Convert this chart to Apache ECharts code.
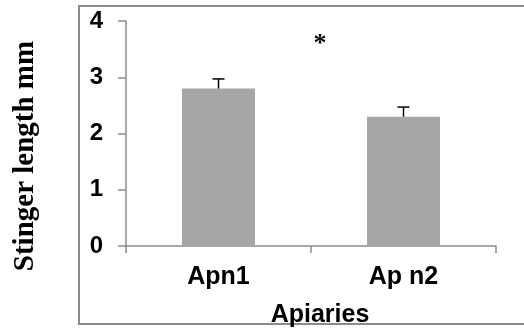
<!DOCTYPE html>
<html>
<head>
<meta charset="utf-8">
<script src="https://cdn.jsdelivr.net/npm/echarts@6/dist/echarts.min.js"></script>
<style>
  html, body { margin: 0; padding: 0; background: #fff; }
  #chart { width: 524px; height: 329px; }
</style>
</head>
<body>
<div id="chart"></div>
<script>
const categories = ['Apn1', 'Ap n2']
const means = [2.8, 2.3]
const errors = [0.17, 0.17]
const yTicks = [0, 1, 2, 3, 4]

const sans = '"Liberation Sans", Arial, sans-serif'
const serif = '"Liberation Serif", "Times New Roman", serif'
const axisGray = '#8c8c8c'

const chart = echarts.init(document.getElementById('chart'))

const option = {
  animation: false,
  backgroundColor: '#fff',
  grid: {
    left: 126,
    right: 28,
    top: 21,
    bottom: 83,
    outerBoundsMode: 'none',
    containLabel: false,
  },
  graphic: [
    {
      type: 'rect',
      shape: { x: 79, y: 6, width: 460, height: 318 },
      style: { fill: 'none', stroke: axisGray, lineWidth: 2 },
      silent: true,
    },
    {
      type: 'text',
      x: 26,
      y: 156,
      rotation: Math.PI / 2,
      style: {
        text: 'Stinger length mm',
        font: 'bold 29px ' + serif,
        fill: '#000',
        align: 'center',
        verticalAlign: 'middle',
      },
    },
    {
      type: 'text',
      x: 320,
      y: 44,
      style: {
        text: '*',
        font: 'bold 26px ' + serif,
        fill: '#000',
        align: 'center',
        verticalAlign: 'middle',
      },
    },
  ],
  xAxis: {
    type: 'category',
    data: categories,
    name: 'Apiaries',
    nameLocation: 'middle',
    nameGap: 57,
    nameTextStyle: {
      fontFamily: sans,
      fontWeight: 'bold',
      fontSize: 25,
      color: '#000',
      padding: [0, 0, 0, 18],
    },
    axisLine: { lineStyle: { color: axisGray, width: 1.5 } },
    axisTick: { show: true, length: 7, lineStyle: { color: axisGray, width: 1.5 } },
    axisLabel: {
      margin: 19,
      fontFamily: sans,
      fontWeight: 'bold',
      fontSize: 25,
      color: '#000',
    },
  },
  yAxis: {
    type: 'value',
    min: 0,
    max: yTicks[yTicks.length - 1],
    interval: 1,
    axisLine: { show: true, lineStyle: { color: axisGray, width: 1.5 } },
    axisTick: { show: true, length: 8, lineStyle: { color: axisGray, width: 1.5 } },
    splitLine: { show: false },
    axisLabel: {
      margin: 23,
      fontFamily: sans,
      fontWeight: 'bold',
      fontSize: 24,
      color: '#000',
    },
  },
  series: [
    {
      type: 'bar',
      data: means,
      barWidth: 73,
      itemStyle: { color: '#a6a6a6' },
    },
    {
      type: 'custom',
      data: means.map((m, i) => [i, m, m + errors[i]]),
      renderItem: (params, api) => {
        const base = api.coord([api.value(0), api.value(1)])
        const top = api.coord([api.value(0), api.value(2)])
        const half = 6
        return {
          type: 'group',
          children: [
            {
              type: 'line',
              shape: { x1: base[0], y1: base[1], x2: top[0], y2: top[1] },
              style: { stroke: '#000', lineWidth: 1.5 },
            },
            {
              type: 'line',
              shape: { x1: top[0] - half, y1: top[1], x2: top[0] + half, y2: top[1] },
              style: { stroke: '#000', lineWidth: 1.5 },
            },
          ],
        }
      },
      z: 3,
    },
  ],
}

chart.setOption(option)
</script>
</body>
</html>
